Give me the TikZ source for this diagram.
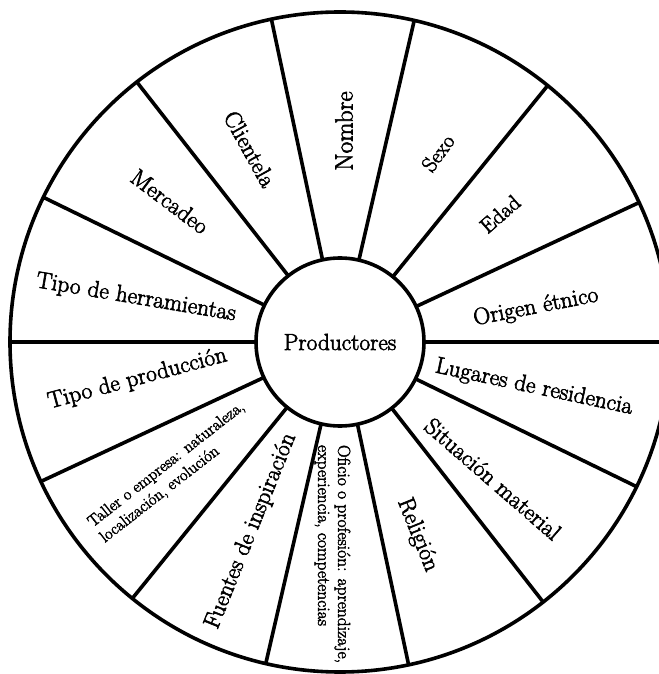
\documentclass[tikz,border=0pt]{standalone}
\usepackage{fontspec}
\newfontfamily\labfont{Latin Modern Roman}[FakeBold=2.5]
\begin{document}
\begin{tikzpicture}[x=1pt,y=1pt,
  rimline/.style={line width=3.6pt},
  lab/.style={font=\labfont\fontsize{23.5}{26}\selectfont, inner sep=0pt},
  labsmall/.style={font=\labfont\fontsize{21.5}{24}\selectfont, inner sep=0pt},
  twoline/.style={font=\labfont\fontsize{16.5}{19.5}\selectfont, inner sep=0pt, align=left}]
\useasboundingbox (-340,-332) rectangle (318,342);
\node[circle, draw, rimline, minimum size=660pt, inner sep=0pt, outer sep=0pt] (rim) at (0,0) {};
\node[circle, draw, rimline, minimum size=168pt, inner sep=0pt, outer sep=0pt, font=\labfont\fontsize{23.3}{26}\selectfont] (core) at (0,0) {Productores};
\foreach \k in {0,...,13} {
  \pgfmathsetmacro\a{\k*360/14}
  \draw[rimline] (core.\a) -- (rim.\a);
}
\node[lab, font=\labfont\fontsize{25}{28}\selectfont, rotate=90] (nombre) at (4,211) {Nombre};
\node[labsmall, rotate=54] (sexo) at (98,189) {Sexo};
\node[labsmall, rotate=41] (edad) at (160,128) {Edad};
\node[lab, rotate=11] (origen) at (196,34.5) {Origen étnico};
\node[lab, rotate=-12] (lugares) at (194,-45.5) {Lugares de residencia};
\node[lab, rotate=-41] (situacion) at (153,-137) {Situación material};
\node[lab, rotate=-68] (religion) at (77.5,-193) {Religión};
\node[twoline, font=\labfont\fontsize{17.5}{20}\selectfont, rotate=-90] (oficio) at (-7.5,-212) {Oficio o profesión: aprendizaje,\\experiencia, competencias};
\node[lab, rotate=68] (fuentes) at (-89,-189) {Fuentes de inspiración};
\node[twoline, rotate=38] (taller) at (-167.5,-130.5) {Taller o empresa: naturaleza,\\localización, evolución};
\node[lab, rotate=15] (tipoprod) at (-202.5,-37) {Tipo de producción};
\node[lab, rotate=-9.5] (tipoherr) at (-204,44) {Tipo de herramientas};
\node[lab, rotate=-37] (mercadeo) at (-170,140.5) {Mercadeo};
\node[lab, rotate=-61] (clientela) at (-90,193) {Clientela};
\end{tikzpicture}
\end{document}
